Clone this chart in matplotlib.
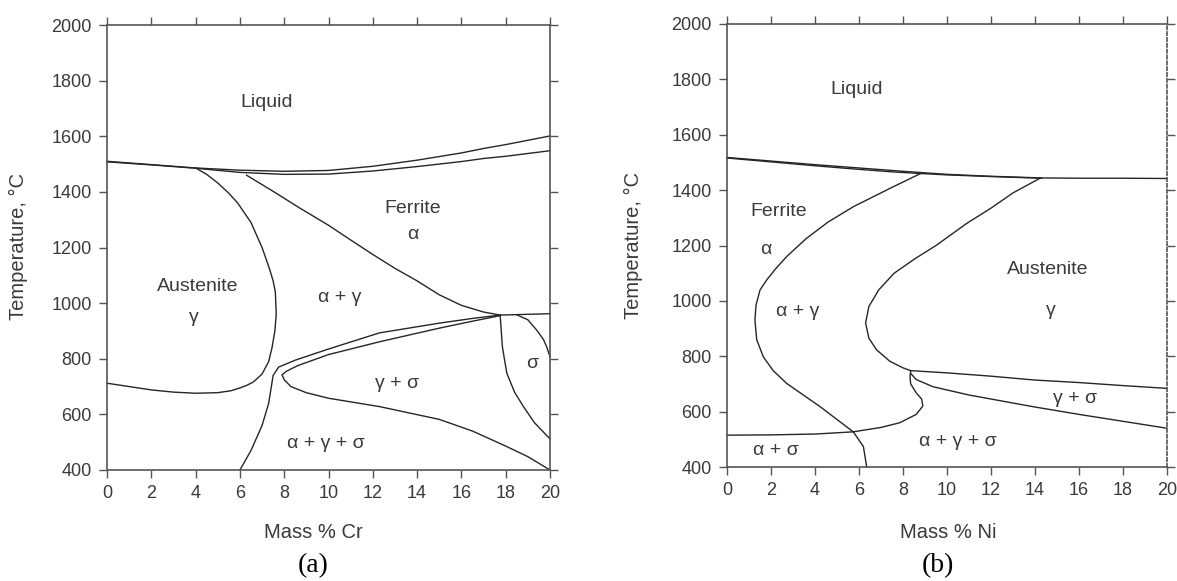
import matplotlib
matplotlib.use("Agg")
import matplotlib.pyplot as plt
import numpy as np

# ---- Fe-Cr section (a) ----
cr_liq_x = [0, 2, 4, 6, 8, 10, 12, 14, 16, 17, 18, 20]
cr_liq_t = [1510, 1498, 1486, 1478, 1474, 1477, 1492, 1514, 1540, 1556, 1570, 1601]
cr_sol_x = [0, 2, 4, 6, 8, 10, 12, 14, 16, 17, 18, 20]
cr_sol_t = [1508, 1497, 1485, 1470, 1463, 1464, 1475, 1491, 1509, 1520, 1528, 1548]

cr_ferrite_x = [6.3, 7.5, 8.7, 10, 11, 12, 13, 14, 15, 16, 17, 17.75]
cr_ferrite_t = [1460, 1402, 1342, 1280, 1227, 1175, 1125, 1080, 1030, 992, 968, 957]

cr_gloop_x = [0, 1, 2, 3, 4, 5, 5.6, 6, 6.3, 6.6, 7.0, 7.3, 7.45, 7.58, 7.64, 7.6, 7.5, 7.35,
              7.0, 6.5, 5.9, 5.5, 5.0, 4.5, 4.0]
cr_gloop_t = [712, 700, 688, 680, 676, 678, 685, 695, 704, 716, 745, 790, 840, 900, 960, 1040,
              1080, 1120, 1200, 1290, 1360, 1395, 1432, 1463, 1486]

cr_outer_x = [6.0, 6.5, 7.0, 7.3, 7.42, 7.5, 7.75, 8.5, 10, 12.3, 14, 15, 16.5, 17.75]
cr_outer_t = [400, 470, 560, 640, 700, 740, 770, 795, 835, 893, 915, 928, 945, 957]

cr_nose_x = [17.75, 16.5, 15, 12.3, 10, 8.6, 8.1, 7.9, 8.0, 8.3, 9, 10, 12.3, 15, 16.5, 18, 19, 20]
cr_nose_t = [955, 935, 910, 861, 815, 775, 755, 742, 725, 700, 678, 658, 628, 582, 540, 486, 448, 400]

cr_sig1_x = [17.75, 17.8, 17.85, 18.05, 18.4, 18.8, 19.3, 19.9, 20]
cr_sig1_t = [957, 900, 843, 748, 680, 628, 570, 520, 512]
cr_sig2_x = [18.5, 19.0, 19.4, 19.7, 19.85, 20]
cr_sig2_t = [958, 940, 903, 870, 843, 807]
cr_hline_x = [17.75, 20]
cr_hline_t = [957, 962]

cr_labels = ["Liquid", "Ferrite", "α", "Austenite", "γ", "α + γ", "γ + σ", "α + γ + σ", "σ"]
cr_label_x = [7.2, 13.8, 13.8, 4.1, 3.9, 10.5, 13.1, 9.9, 19.2]
cr_label_t = [1723, 1342, 1245, 1058, 950, 1022, 712, 497, 784]

# ---- Fe-Ni section (b) ----
ni_liq_x = [0, 2, 4, 6, 8, 10, 12, 14.3, 16, 18, 20]
ni_liq_t = [1518, 1505, 1492, 1480, 1468, 1457, 1450, 1444, 1443, 1443, 1442]
ni_sol_x = [0, 2, 4, 6, 7.5, 8.8, 10, 12, 14.3]
ni_sol_t = [1516, 1502, 1488, 1475, 1466, 1460, 1455, 1449, 1443]

ni_ferrite_x = [8.8, 7.5, 5.74, 4.6, 3.6, 2.71, 2.2, 1.8, 1.5, 1.32, 1.27, 1.35, 1.65, 2.1,
                2.71, 4.23, 5.74, 6.2, 6.35]
ni_ferrite_t = [1460, 1410, 1340, 1285, 1225, 1160, 1115, 1075, 1039, 985, 931, 860, 798, 748,
                702, 618, 527, 474, 400]

ni_aust_x = [14.23, 13, 12, 10.9, 9.5, 8.5, 7.6, 6.9, 6.45, 6.3, 6.45, 6.8, 7.4, 8.0, 8.35]
ni_aust_t = [1443, 1390, 1335, 1280, 1200, 1150, 1100, 1040, 980, 920, 865, 823, 782, 758, 748]

ni_gs_up_x = [8.35, 10, 12, 14, 16, 18, 20]
ni_gs_up_t = [748, 740, 728, 714, 705, 694, 684]
ni_gs_lo_x = [8.35, 8.6, 9.36, 11, 13.9, 16, 18, 20]
ni_gs_lo_t = [738, 716, 690, 660, 618, 590, 565, 540]

ni_as_x = [0, 2, 4, 5.74, 7, 7.86, 8.6, 8.9, 8.85, 8.6, 8.35, 8.32, 8.35]
ni_as_t = [515, 516, 519, 527, 543, 560, 590, 620, 645, 668, 700, 725, 748]

ni_labels = ["Liquid", "Ferrite", "α", "α + γ", "Austenite", "γ", "γ + σ", "α + γ + σ", "α + σ"]
ni_label_x = [5.9, 2.35, 1.75, 3.2, 14.6, 14.7, 15.8, 10.5, 2.2]
ni_label_t = [1762, 1322, 1184, 961, 1112, 967, 648, 491, 461]

LINE = "#262626"
TXT = "#3a3a3a"
plt.rcParams["font.family"] = ["Liberation Sans", "DejaVu Sans"]

fig = plt.figure(figsize=(11.77, 5.81), dpi=100)
ax_a = fig.add_axes([107 / 1177, 1 - 470 / 581, 443 / 1177, 445 / 581])
ax_b = fig.add_axes([727 / 1177, 1 - 467 / 581, 440 / 1177, 443 / 581])


def setup(ax):
    ax.set_xlim(0, 20)
    ax.set_ylim(400, 2000)
    ax.set_xticks(np.arange(0, 21, 2))
    ax.set_yticks(np.arange(400, 2001, 200))
    ax.tick_params(direction="out", top=True, right=True, length=6, width=1,
                   color="#555555", labelsize=13, labelcolor=TXT, pad=5)
    for s in ax.spines.values():
        s.set_color("#555555")
        s.set_linewidth(1.2)


def curve(ax, xs, ts):
    ax.plot(xs, ts, color=LINE, lw=1.0, solid_joinstyle="round", clip_on=False)


setup(ax_a)
for xs, ts in [(cr_liq_x, cr_liq_t), (cr_sol_x, cr_sol_t), (cr_ferrite_x, cr_ferrite_t),
               (cr_gloop_x, cr_gloop_t), (cr_outer_x, cr_outer_t), (cr_nose_x, cr_nose_t),
               (cr_sig1_x, cr_sig1_t), (cr_sig2_x, cr_sig2_t), (cr_hline_x, cr_hline_t)]:
    curve(ax_a, xs, ts)
for lab, x, t in zip(cr_labels, cr_label_x, cr_label_t):
    ax_a.text(x, t, lab, ha="center", va="center", fontsize=14, color=TXT)

setup(ax_b)
ax_b.spines["right"].set_linestyle((0, (2, 1.5)))
for xs, ts in [(ni_liq_x, ni_liq_t), (ni_sol_x, ni_sol_t), (ni_ferrite_x, ni_ferrite_t),
               (ni_aust_x, ni_aust_t), (ni_gs_up_x, ni_gs_up_t), (ni_gs_lo_x, ni_gs_lo_t),
               (ni_as_x, ni_as_t)]:
    curve(ax_b, xs, ts)
for lab, x, t in zip(ni_labels, ni_label_x, ni_label_t):
    ax_b.text(x, t, lab, ha="center", va="center", fontsize=14, color=TXT)

# axis titles and panel letters
fig.text(18 / 1177, 1 - 246 / 581, "Temperature, °C", rotation=90, ha="center", va="center",
         fontsize=14.5, color=TXT)
fig.text(633 / 1177, 1 - 245 / 581, "Temperature, °C", rotation=90, ha="center", va="center",
         fontsize=14.5, color=TXT)
fig.text(313 / 1177, 1 - 533 / 581, "Mass % Cr", ha="center", va="center", fontsize=14.5, color=TXT)
fig.text(948 / 1177, 1 - 533 / 581, "Mass % Ni", ha="center", va="center", fontsize=14.5, color=TXT)
fig.text(313 / 1177, 1 - 566 / 581, "(a)", ha="center", va="center", fontsize=20,
         family="Liberation Serif", color="black")
fig.text(938 / 1177, 1 - 566 / 581, "(b)", ha="center", va="center", fontsize=20,
         family="Liberation Serif", color="black")

fig.savefig("out.png", dpi=100)
